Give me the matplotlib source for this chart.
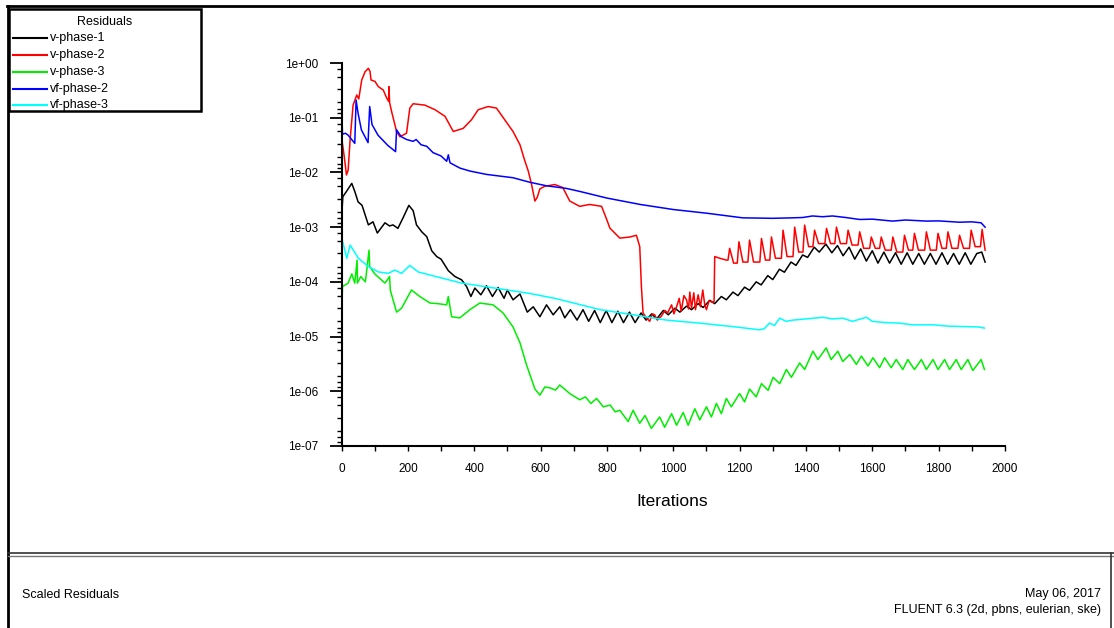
import matplotlib
matplotlib.use('Agg')
import matplotlib.pyplot as plt
import matplotlib.ticker as mticker
from matplotlib.lines import Line2D
from matplotlib.patches import Rectangle

plt.rcParams['font.family'] = ['Liberation Sans', 'DejaVu Sans']

# Residual histories: (iteration, residual)
v_phase_1 = [
    (0, 1.4e-3), (4, 3.6e-3), (15, 4.5e-3), (31, 6.3e-3), (40, 4.5e-3),
    (50, 2.9e-3), (62, 2.5e-3), (81, 1.1e-3), (95, 1.25e-3), (108, 7.8e-4),
    (131, 1.2e-3), (145, 1.05e-3), (155, 1.1e-3), (170, 9.5e-4),
    (186, 1.5e-3), (203, 2.5e-3), (216, 2.0e-3), (226, 1.1e-3),
    (242, 8.2e-4), (257, 6.7e-4), (272, 3.7e-4), (287, 2.9e-4),
    (300, 2.6e-4), (312, 2.0e-4), (322, 1.6e-4), (342, 1.25e-4),
    (362, 1.09e-4), (377, 8.2e-5), (390, 5.4e-5), (402, 7.7e-5),
    (420, 5.8e-5), (437, 8.5e-5), (455, 5.4e-5), (472, 7.9e-5),
    (490, 5.0e-5), (500, 7.1e-5), (517, 4.7e-5), (538, 6.0e-5),
    (560, 2.8e-5), (578, 3.5e-5), (598, 2.3e-5), (618, 3.8e-5),
    (638, 2.5e-5), (658, 3.5e-5), (673, 2.2e-5), (690, 3.1e-5),
    (710, 2.0e-5), (728, 3.1e-5), (745, 1.9e-5), (763, 3.0e-5),
    (780, 1.8e-5), (798, 3.0e-5), (815, 1.8e-5), (833, 2.9e-5),
    (850, 1.8e-5), (868, 2.8e-5), (885, 1.8e-5), (903, 2.7e-5),
    (918, 2.0e-5), (935, 2.6e-5), (950, 2.1e-5), (970, 3.0e-5),
    (985, 2.5e-5), (1005, 3.3e-5), (1020, 2.8e-5), (1040, 3.6e-5),
    (1055, 3.1e-5), (1075, 4.0e-5), (1090, 3.4e-5), (1110, 4.6e-5),
    (1125, 4.0e-5), (1145, 5.4e-5), (1160, 4.7e-5), (1180, 6.5e-5),
    (1195, 5.6e-5), (1215, 8.0e-5), (1230, 7.0e-5), (1250, 1.0e-4),
    (1265, 8.8e-5), (1285, 1.3e-4), (1300, 1.1e-4), (1320, 1.7e-4),
    (1335, 1.5e-4), (1355, 2.3e-4), (1370, 2.0e-4), (1390, 3.1e-4),
    (1405, 2.8e-4), (1425, 4.3e-4), (1440, 3.5e-4), (1460, 4.9e-4),
    (1478, 3.4e-4), (1495, 4.6e-4), (1512, 3.0e-4), (1530, 4.3e-4),
    (1547, 2.6e-4), (1565, 4.0e-4), (1582, 2.4e-4), (1600, 3.7e-4),
    (1617, 2.2e-4), (1635, 3.5e-4), (1652, 2.2e-4), (1670, 3.4e-4),
    (1687, 2.1e-4), (1705, 3.4e-4), (1722, 2.1e-4), (1740, 3.3e-4),
    (1757, 2.1e-4), (1775, 3.3e-4), (1792, 2.1e-4), (1810, 3.4e-4),
    (1827, 2.1e-4), (1845, 3.3e-4), (1862, 2.1e-4), (1880, 3.4e-4),
    (1897, 2.1e-4), (1915, 3.3e-4), (1930, 3.5e-4), (1940, 2.3e-4),
]

v_phase_2 = [
    (0, 4.5e-2), (8, 2.0e-2), (15, 9.0e-3), (20, 1.1e-2), (26, 4.0e-2),
    (35, 1.7e-1), (46, 2.6e-1), (52, 2.2e-1), (61, 4.9e-1), (71, 6.9e-1),
    (81, 8.0e-1), (86, 7.0e-1), (89, 4.9e-1), (101, 4.6e-1),
    (111, 3.7e-1), (126, 3.2e-1), (136, 2.3e-1), (142, 2.0e-1),
    (143, 3.7e-1), (145, 1.9e-1), (151, 1.3e-1), (166, 5.6e-2),
    (176, 4.5e-2), (196, 5.2e-2), (206, 1.5e-1), (216, 1.8e-1),
    (251, 1.7e-1), (282, 1.4e-1), (312, 1.06e-1), (337, 5.6e-2),
    (352, 6.0e-2), (367, 6.4e-2), (392, 9.2e-2), (412, 1.4e-1),
    (442, 1.6e-1), (467, 1.5e-1), (492, 9.2e-2), (517, 5.6e-2),
    (538, 3.2e-2), (553, 1.6e-2), (563, 1.06e-2), (573, 6.0e-3),
    (583, 3.0e-3), (590, 3.5e-3), (598, 5.0e-3), (613, 5.6e-3),
    (643, 6.0e-3), (667, 5.3e-3), (688, 3.0e-3), (718, 2.4e-3),
    (748, 2.6e-3), (784, 2.4e-3), (799, 1.4e-3), (809, 9.6e-4),
    (839, 6.3e-4), (869, 6.6e-4), (889, 7.1e-4), (899, 4.4e-4),
    (904, 8.2e-5), (909, 2.7e-5), (919, 2.2e-5), (929, 1.9e-5),
    (937, 2.6e-5), (944, 2.5e-5), (952, 2.0e-5), (964, 2.35e-5),
    (975, 3.0e-5), (983, 2.7e-5), (995, 3.8e-5), (1002, 2.6e-5),
    (1010, 3.5e-5), (1018, 5.0e-5), (1024, 2.9e-5), (1032, 5.6e-5),
    (1040, 4.7e-5), (1046, 3.2e-5), (1050, 6.5e-5), (1055, 3.3e-5),
    (1062, 6.3e-5), (1067, 3.1e-5), (1075, 5.8e-5), (1082, 3.5e-5),
    (1089, 7.1e-5), (1095, 3.8e-5), (1100, 3.1e-5), (1108, 4.5e-5),
    (1119, 4.2e-5), (1123, 4.4e-5), (1125, 2.9e-4), (1140, 2.7e-4),
    (1160, 2.5e-4),
    (1165, 2.5e-4), (1170, 4.1e-4), (1182, 2.2e-4),
    (1193, 2.2e-4), (1198, 5.4e-4), (1210, 2.3e-4),
    (1225, 2.3e-4), (1230, 5.8e-4), (1242, 2.3e-4),
    (1261, 2.3e-4), (1266, 6.2e-4), (1278, 2.5e-4),
    (1291, 2.5e-4), (1296, 6.6e-4), (1308, 2.7e-4),
    (1326, 2.7e-4), (1331, 8.8e-4), (1343, 2.9e-4),
    (1361, 2.9e-4), (1366, 1.0e-3), (1378, 3.5e-4),
    (1391, 3.5e-4), (1396, 1.09e-3), (1408, 4.4e-4),
    (1421, 4.4e-4), (1426, 8.8e-4), (1438, 5.0e-4),
    (1457, 5.0e-4), (1462, 9.5e-4), (1474, 5.0e-4),
    (1487, 5.0e-4), (1492, 1.0e-3), (1504, 5.0e-4),
    (1522, 5.0e-4), (1527, 8.8e-4), (1539, 4.7e-4),
    (1557, 4.7e-4), (1562, 8.2e-4), (1574, 4.1e-4),
    (1592, 4.1e-4), (1597, 6.6e-4), (1609, 4.1e-4),
    (1622, 4.1e-4), (1627, 6.6e-4), (1639, 3.8e-4),
    (1657, 3.8e-4), (1662, 6.6e-4), (1674, 3.5e-4),
    (1692, 3.5e-4), (1697, 7.1e-4), (1709, 3.8e-4),
    (1722, 3.8e-4), (1727, 7.7e-4), (1739, 3.8e-4),
    (1758, 3.8e-4), (1763, 8.2e-4), (1775, 3.8e-4),
    (1793, 3.8e-4), (1798, 7.7e-4), (1810, 4.1e-4),
    (1823, 4.1e-4), (1828, 8.2e-4), (1840, 4.1e-4),
    (1858, 4.1e-4), (1863, 7.1e-4), (1875, 4.1e-4),
    (1893, 4.1e-4), (1898, 8.8e-4), (1910, 4.4e-4),
    (1926, 4.4e-4), (1931, 9.1e-4), (1940, 3.8e-4),
]

v_phase_3 = [
    (0, 1.7e-5), (3, 8.2e-5), (20, 9.5e-5), (31, 1.4e-4), (40, 9.5e-5),
    (47, 2.5e-4), (48, 9.5e-5), (58, 1.25e-4), (72, 1.0e-4),
    (83, 3.8e-4), (85, 1.9e-4), (100, 1.4e-4), (131, 9.5e-5),
    (145, 1.25e-4), (147, 7.1e-5), (166, 2.8e-5), (181, 3.3e-5),
    (211, 7.1e-5), (236, 5.4e-5), (267, 4.1e-5), (290, 4.0e-5),
    (317, 3.8e-5), (322, 5.4e-5), (332, 2.3e-5), (357, 2.2e-5),
    (387, 3.1e-5), (417, 4.1e-5), (457, 3.8e-5), (487, 2.7e-5),
    (517, 1.5e-5), (538, 7.7e-6), (558, 3.0e-6), (583, 1.1e-6),
    (598, 8.5e-7), (613, 1.2e-6), (630, 1.15e-6), (645, 1.05e-6),
    (658, 1.3e-6), (688, 9.1e-7), (718, 7.0e-7), (735, 7.9e-7),
    (752, 6.0e-7), (769, 7.4e-7), (789, 5.2e-7), (810, 5.6e-7),
    (825, 4.2e-7), (839, 4.5e-7), (864, 2.8e-7), (879, 4.5e-7),
    (899, 2.6e-7), (915, 3.6e-7), (934, 2.1e-7), (959, 3.4e-7),
    (974, 2.2e-7), (995, 3.9e-7), (1010, 2.4e-7), (1030, 4.1e-7),
    (1045, 2.4e-7), (1065, 4.8e-7), (1080, 3.0e-7), (1100, 5.2e-7),
    (1115, 3.4e-7), (1130, 6.0e-7), (1145, 3.9e-7), (1160, 7.4e-7),
    (1175, 5.2e-7), (1200, 9.1e-7), (1215, 6.4e-7), (1230, 1.1e-6),
    (1250, 7.9e-7), (1266, 1.38e-6), (1286, 1.04e-6), (1301, 1.8e-6),
    (1321, 1.38e-6), (1341, 2.5e-6), (1356, 1.8e-6), (1381, 3.3e-6),
    (1396, 2.5e-6), (1421, 5.4e-6), (1436, 3.8e-6), (1461, 6.2e-6),
    (1476, 3.8e-6), (1496, 5.4e-6), (1511, 3.5e-6), (1532, 4.7e-6),
    (1552, 3.1e-6), (1567, 4.4e-6), (1587, 2.9e-6), (1602, 4.1e-6),
    (1622, 2.7e-6), (1637, 4.1e-6), (1657, 2.7e-6), (1672, 3.8e-6),
    (1692, 2.5e-6), (1707, 3.8e-6), (1727, 2.5e-6), (1748, 3.8e-6),
    (1763, 2.5e-6), (1783, 3.8e-6), (1798, 2.5e-6), (1818, 3.8e-6),
    (1833, 2.5e-6), (1853, 3.8e-6), (1868, 2.5e-6), (1888, 3.8e-6),
    (1903, 2.4e-6), (1928, 3.8e-6), (1938, 2.5e-6),
]

vf_phase_2 = [
    (0, 2.0e-1), (3, 5.0e-2), (12, 5.2e-2), (20, 4.8e-2), (40, 3.4e-2),
    (44, 2.1e-1), (50, 1.2e-1), (60, 6.0e-2), (80, 3.5e-2), (85, 1.6e-1),
    (92, 7.5e-2), (110, 4.8e-2), (140, 3.1e-2), (163, 2.4e-2),
    (166, 6.0e-2), (180, 4.5e-2), (196, 4.0e-2), (216, 3.7e-2),
    (225, 4.0e-2), (240, 3.2e-2), (257, 3.0e-2), (276, 2.3e-2),
    (300, 2.0e-2), (317, 1.6e-2), (322, 2.1e-2), (327, 1.5e-2),
    (357, 1.2e-2), (387, 1.06e-2), (437, 9.2e-3), (517, 8.0e-3),
    (568, 6.6e-3), (618, 5.7e-3), (678, 5.1e-3), (718, 4.5e-3),
    (800, 3.4e-3), (900, 2.6e-3), (1000, 2.1e-3), (1100, 1.8e-3),
    (1209, 1.48e-3), (1300, 1.45e-3), (1360, 1.48e-3), (1390, 1.5e-3),
    (1420, 1.6e-3), (1450, 1.55e-3), (1480, 1.6e-3), (1520, 1.5e-3),
    (1562, 1.38e-3), (1600, 1.4e-3), (1661, 1.29e-3), (1700, 1.35e-3),
    (1763, 1.29e-3), (1800, 1.3e-3), (1863, 1.23e-3), (1900, 1.25e-3),
    (1928, 1.2e-3), (1940, 1.0e-3),
]

vf_phase_3 = [
    (0, 6.6e-4), (16, 2.7e-4), (26, 4.7e-4), (51, 2.7e-4), (81, 1.9e-4),
    (111, 1.52e-4), (141, 1.43e-4), (161, 1.64e-4), (181, 1.43e-4),
    (206, 2.0e-4), (231, 1.52e-4), (282, 1.26e-4), (362, 9.5e-5),
    (462, 7.7e-5), (563, 6.2e-5), (643, 5.0e-5), (780, 3.1e-5),
    (880, 2.5e-5), (980, 2.0e-5), (1080, 1.76e-5), (1180, 1.52e-5),
    (1260, 1.33e-5), (1275, 1.4e-5), (1290, 1.76e-5), (1305, 1.6e-5),
    (1321, 2.17e-5), (1340, 1.9e-5), (1361, 2.0e-5), (1400, 2.1e-5),
    (1451, 2.25e-5), (1480, 2.1e-5), (1511, 2.17e-5), (1540, 1.9e-5),
    (1582, 2.25e-5), (1600, 1.9e-5), (1640, 1.8e-5), (1682, 1.76e-5),
    (1720, 1.64e-5), (1783, 1.64e-5), (1830, 1.55e-5), (1883, 1.52e-5),
    (1920, 1.5e-5), (1938, 1.43e-5),
]

series = [
    ('v-phase-1', v_phase_1, 'black'),
    ('v-phase-2', v_phase_2, '#ff0000'),
    ('v-phase-3', v_phase_3, '#00ee00'),
    ('vf-phase-2', vf_phase_2, '#0000ff'),
    ('vf-phase-3', vf_phase_3, '#00ffff'),
]

y_major = [1e-7, 1e-6, 1e-5, 1e-4, 1e-3, 1e-2, 1e-1, 1e0]

W, H = 1114, 628


def fx(x):
    return x / W


def fy(y):
    return 1 - y / H


fig = plt.figure(figsize=(W / 100, H / 100), dpi=100)
ax = fig.add_axes([fx(341.5), fy(446), (1005 - 341.5) / W, (446 - 63) / H])

for name, pts, col in series:
    its = [p[0] for p in pts]
    res = [p[1] for p in pts]
    ax.plot(its, res, color=col, lw=1.1)

ax.set_yscale('log')
ax.set_xlim(0, 2000)
ax.set_ylim(1e-7, 1e0)
ax.spines['top'].set_visible(False)
ax.spines['right'].set_visible(False)
ax.spines['left'].set_linewidth(1.5)
ax.spines['bottom'].set_linewidth(1.5)

ax.xaxis.set_major_locator(mticker.MultipleLocator(200))
ax.xaxis.set_minor_locator(mticker.MultipleLocator(100))
ax.yaxis.set_major_locator(mticker.FixedLocator(y_major))
ax.yaxis.set_minor_locator(mticker.LogLocator(
    base=10, subs=(1.2, 1.45, 1.9, 3.3, 5.6, 7.8), numticks=20))
ax.yaxis.set_major_formatter(
    mticker.FuncFormatter(lambda v, p: f"{v:.0e}"))
ax.yaxis.set_minor_formatter(mticker.NullFormatter())

ax.tick_params(axis='y', which='major', direction='out', length=8.5,
    width=1.3, pad=8, labelsize=8.5)
ax.tick_params(axis='y', which='minor', direction='out', length=3.5,
    width=1.0)
ax.tick_params(axis='x', which='both', direction='out', length=3.5,
    width=1.0, pad=9, labelsize=8.5)

ax.set_xlabel('Iterations', fontsize=12.5)
ax.xaxis.set_label_coords((672 - 341.5) / (1005 - 341.5),
    (446 - 501) / (446 - 63), transform=ax.transAxes)
ax.xaxis.label.set_va('center')

# window frame
frame_kw = dict(transform=fig.transFigure, color='black', lw=2)
fig.add_artist(Line2D([fx(7), fx(W)], [fy(6), fy(6)], **frame_kw))
fig.add_artist(Line2D([fx(8), fx(8)], [fy(6), fy(H)], **frame_kw))
fig.add_artist(Line2D([fx(8), fx(W)], [fy(553), fy(553)],
    transform=fig.transFigure, color='#333333', lw=1.2))
fig.add_artist(Line2D([fx(8), fx(W)], [fy(556), fy(556)],
    transform=fig.transFigure, color='#777777', lw=1.0))
fig.add_artist(Line2D([fx(1111), fx(1111)], [fy(553), fy(H)],
    transform=fig.transFigure, color='#333333', lw=1.2))

# legend box
fig.add_artist(Rectangle((fx(9), fy(111)), (201 - 9) / W, (111 - 9) / H,
    transform=fig.transFigure, fill=True, facecolor='white',
    edgecolor='black', lw=1.8))
fig.text(fx(105), fy(22), 'Residuals', ha='center', va='center',
    fontsize=9)
row_y = [38, 55, 72, 89, 105]
for (name, pts, col), ry in zip(series, row_y):
    fig.add_artist(Line2D([fx(13), fx(47)], [fy(ry), fy(ry)],
        transform=fig.transFigure, color=col, lw=1.5))
    fig.text(fx(50), fy(ry), name, ha='left', va='center', fontsize=9)

# footer
fig.text(fx(22), fy(595), 'Scaled Residuals', ha='left', va='center',
    fontsize=9)
fig.text(fx(1101), fy(594), 'May 06, 2017', ha='right', va='center',
    fontsize=9)
fig.text(fx(1101), fy(610), 'FLUENT 6.3 (2d, pbns, eulerian, ske)',
    ha='right', va='center', fontsize=9)

fig.savefig('out.png', dpi=100)
